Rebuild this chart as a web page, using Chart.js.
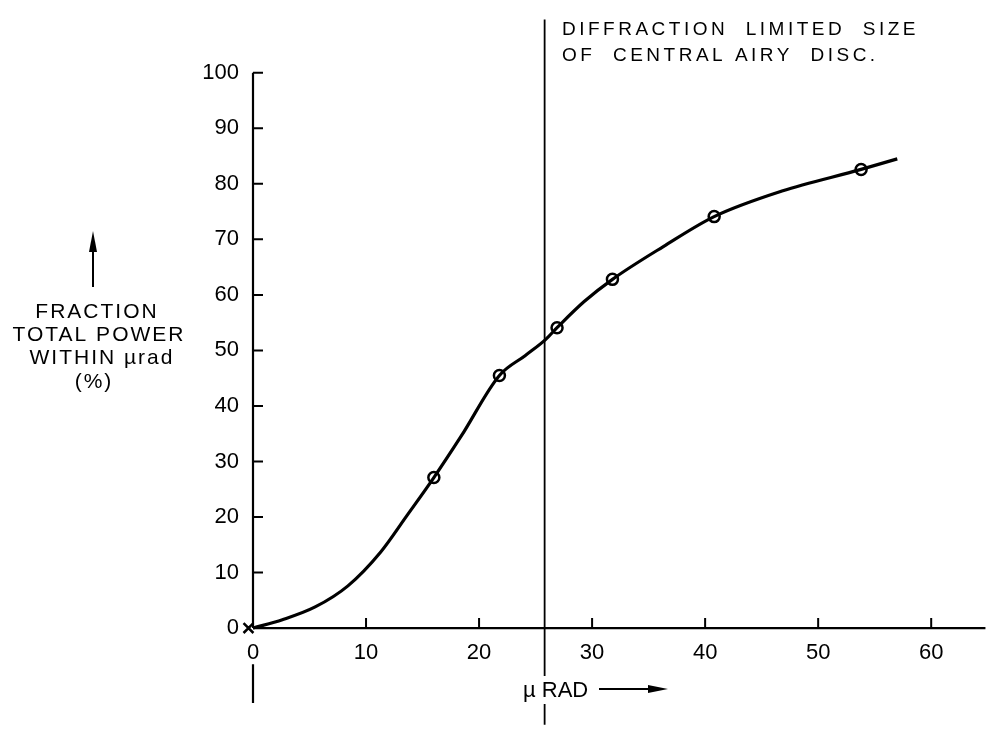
<!DOCTYPE html>
<html>
<head>
<meta charset="utf-8">
<script src="https://cdn.jsdelivr.net/npm/chart.js@4/dist/chart.umd.min.js"></script>
<style>
  html, body { margin: 0; padding: 0; background: #fff; }
  #wrap { width: 998px; height: 734px; }
</style>
</head>
<body>
<div id="wrap"><canvas id="chart"></canvas></div>
<script>
// tick labels
const xTicks = [0, 10, 20, 30, 40, 50, 60];
const yTicks = [0, 10, 20, 30, 40, 50, 60, 70, 80, 90, 100];

// smooth curve
const curveX = [0, 2.6, 5.5, 8.4, 11.3, 13.6, 16.0, 18.4, 21.8, 24.1, 25.9, 26.9, 29.3, 31.8, 36.3, 40.8, 46.8, 53.8, 57.0];
const curveY = [0, 1.5, 3.8, 7.6, 13.7, 20.2, 27.1, 34.5, 45.5, 49.1, 52.0, 54.1, 58.8, 62.8, 68.7, 74.1, 78.7, 82.6, 84.5];

// measured points (open circles)
const measuredX = [16.0, 21.8, 26.9, 31.8, 40.8, 53.8];
const measuredY = [27.1, 45.5, 54.1, 62.8, 74.1, 82.6];

// origin cross
const originX = [-0.4];
const originY = [0];

// diffraction limit of the central Airy disc
const airyLimit = 25.8;

// axis lines (null = break for a tick label)
const xAxisX = [-7.4, -3.3, -1, 0, 64.8];
const xAxisY = [0, 0, null, 0, 0];
const yAxisX = [0, 0, 0, 0, 0];
const yAxisY = [100, 0, null, -6.5, -13.5];

const pts = (xs, ys) => xs.map((x, i) => ({ x: x, y: ys[i] }));

const FONT = "'Liberation Sans', Arial, sans-serif";

// short inward tick marks on both axes
const tickPlugin = {
  id: "innerTicks",
  afterDatasetsDraw(chart) {
    const { ctx, scales } = chart;
    const x0 = scales.x.getPixelForValue(0);
    const y0 = scales.y.getPixelForValue(0);
    ctx.save();
    ctx.strokeStyle = "#000";
    ctx.lineWidth = 2;
    ctx.beginPath();
    scales.x.ticks.forEach((t) => {
      const px = scales.x.getPixelForValue(t.value);
      ctx.moveTo(px, y0);
      ctx.lineTo(px, y0 - 10);
    });
    scales.y.ticks.forEach((t) => {
      const py = scales.y.getPixelForValue(t.value);
      ctx.moveTo(x0, py);
      ctx.lineTo(x0 + 10, py);
    });
    ctx.stroke();
    ctx.restore();
  },
};

const textPlugin = {
  id: "labels",
  afterDatasetsDraw(chart) {
    const ctx = chart.ctx;
    ctx.save();
    ctx.fillStyle = "#000";
    ctx.strokeStyle = "#000";
    ctx.textBaseline = "middle";

    // annotation at top
    ctx.font = "19px " + FONT;
    ctx.letterSpacing = "3.5px";
    ctx.textAlign = "left";
    ctx.fillText("DIFFRACTION  LIMITED  SIZE", 562, 30);
    ctx.fillText("OF  CENTRAL AIRY  DISC.", 562, 56);

    // y title
    ctx.font = "21px " + FONT;
    ctx.letterSpacing = "2px";
    ctx.textAlign = "center";
    ctx.fillText("FRACTION", 97, 312);
    ctx.fillText("TOTAL POWER", 99, 335);
    ctx.fillText("WITHIN \u00b5rad", 102, 358);
    ctx.fillText("(%)", 94, 382);

    // up arrow
    ctx.lineWidth = 2;
    ctx.beginPath();
    ctx.moveTo(93, 287);
    ctx.lineTo(93, 245);
    ctx.stroke();
    ctx.beginPath();
    ctx.moveTo(93, 231);
    ctx.lineTo(89, 252);
    ctx.lineTo(97, 252);
    ctx.closePath();
    ctx.fill();

    // x title over the vertical line
    ctx.fillStyle = "#fff";
    ctx.fillRect(520, 676, 76, 28);
    ctx.fillStyle = "#000";
    ctx.font = "22px " + FONT;
    ctx.letterSpacing = "0px";
    ctx.textAlign = "left";
    ctx.fillText("\u00b5 RAD", 523, 691);
    ctx.beginPath();
    ctx.moveTo(599, 689);
    ctx.lineTo(655, 689);
    ctx.stroke();
    ctx.beginPath();
    ctx.moveTo(668, 689);
    ctx.lineTo(648, 685);
    ctx.lineTo(648, 693);
    ctx.closePath();
    ctx.fill();
    ctx.restore();
  },
};

const init = function () {
  const canvas = document.getElementById("chart");
  new Chart(canvas, {
    type: "line",
    data: {
      datasets: [
        {
          data: pts(curveX, curveY),
          borderColor: "#000",
          borderWidth: 3.2,
          cubicInterpolationMode: "monotone",
          pointRadius: 0,
          clip: false,
        },
        {
          data: pts(measuredX, measuredY),
          showLine: false,
          pointStyle: "circle",
          pointRadius: 5.5,
          pointBorderWidth: 2.5,
          pointBorderColor: "#000",
          pointBackgroundColor: "#fff",
        },
        {
          data: pts(originX, originY),
          showLine: false,
          pointStyle: "crossRot",
          pointRadius: 7,
          pointBorderWidth: 2.5,
          pointBorderColor: "#000",
          clip: false,
        },
        {
          data: pts(xAxisX, xAxisY),
          borderColor: "#000",
          borderWidth: 2.2,
          pointRadius: 0,
          clip: false,
        },
        {
          data: pts(yAxisX, yAxisY),
          borderColor: "#000",
          borderWidth: 2.2,
          pointRadius: 0,
          clip: false,
        },
        {
          data: [{ x: airyLimit, y: 109.6 }, { x: airyLimit, y: -17.4 }],
          borderColor: "#000",
          borderWidth: 1.8,
          pointRadius: 0,
          clip: false,
        },
      ],
    },
    options: {
      responsive: true,
      maintainAspectRatio: false,
      animation: false,
      events: [],
      layout: { padding: 0 },
      plugins: {
        legend: { display: false },
        tooltip: { enabled: false },
      },
      scales: {
        x: {
          type: "linear",
          min: 0,
          max: 65.07,
          position: { y: 0 },
          border: { display: false },
          grid: { display: false, tickLength: -10 },
          ticks: {
            color: "#000",
            font: { family: FONT, size: 22 },
            padding: 22,
          },
          afterBuildTicks: (s) => {
            s.ticks = xTicks.map((v) => ({ value: v }));
          },
          afterFit: (s) => {
            s.paddingLeft = 0;
            s.paddingRight = 0;
          },
        },
        y: {
          type: "linear",
          min: -17.37,
          max: 111.4,
          position: "left",
          border: { display: false },
          grid: { display: false, tickLength: -10 },
          ticks: {
            color: "#000",
            font: { family: FONT, size: 22 },
            padding: 24,
          },
          afterBuildTicks: (s) => {
            s.ticks = yTicks.map((v) => ({ value: v }));
          },
          afterFit: (s) => {
            s.width = 253;
            s.paddingTop = 0;
            s.paddingBottom = 0;
          },
        },
      },
    },
    plugins: [tickPlugin, textPlugin],
  });
};

window.onload = () => {
  if (document.readyState !== "loading") return init();
  document.addEventListener("DOMContentLoaded", init);
};
</script>
</body>
</html>
